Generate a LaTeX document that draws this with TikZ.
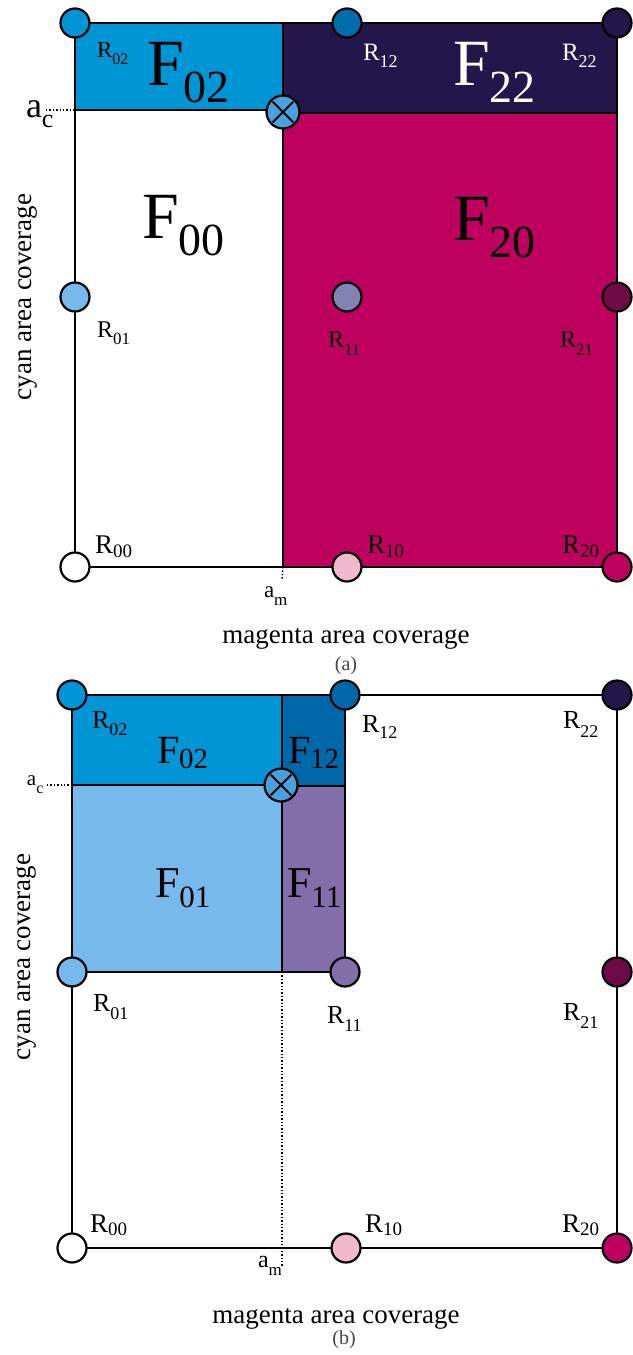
\documentclass[tikz,border=0pt]{standalone}
\usepackage{fontspec}
\setmainfont{Liberation Serif}
\newcommand\slab[5]{\fontsize{#3}{#3}\selectfont #1\raisebox{-#5}{\fontsize{#4}{#4}\selectfont #2}}
\definecolor{cyanA}{HTML}{0096D6}
\definecolor{navyA}{HTML}{23164B}
\definecolor{magA}{HTML}{BE005F}
\definecolor{blueB}{HTML}{0068A8}
\definecolor{ltblue}{HTML}{78B9EB}
\definecolor{lavend}{HTML}{8282B4}
\definecolor{purpB}{HTML}{826EA8}
\definecolor{plum}{HTML}{6E0A46}
\definecolor{pink}{HTML}{F0B9CD}
\definecolor{crossc}{HTML}{4AA0DA}
\definecolor{capgray}{HTML}{444444}
\tikzset{
  frame/.style={line width=2.2pt, black},
  bound/.style={line width=1.8pt, black},
  dotline/.style={line width=1.4pt, black, dotted},
  pnode/.style={circle, draw=black, line width=2.2pt, minimum size=29pt, inner sep=0pt},
  xnode/.style={circle, draw=black, line width=2.2pt, minimum size=33pt, inner sep=0pt, fill=crossc},
  lbl/.style={anchor=base west, inner sep=0pt, outer sep=0pt},
  axl/.style={inner sep=0pt, font=\fontsize{27}{27}\selectfont},
  capl/.style={inner sep=0pt, text=capgray, font=\fontsize{20}{20}\selectfont},
}
\begin{document}
\begin{tikzpicture}[x=1pt,y=-1pt]
\useasboundingbox (0,0) rectangle (632,1355);
% ================= panel (a) =================
\coordinate (a00) at (75,567); \coordinate (a10) at (347,567); \coordinate (a20) at (617,567);
\coordinate (a01) at (75,297); \coordinate (a11) at (347,297); \coordinate (a21) at (617,297);
\coordinate (a02) at (75,23);  \coordinate (a12) at (347,23);  \coordinate (a22) at (617,23);
\coordinate (aX) at (283,112);
\coordinate (aT) at (283,23); \coordinate (aB) at (283,567);
\coordinate (aL) at (75,110); \coordinate (aC) at (283,110);
\coordinate (aR) at (617,113); \coordinate (aM) at (283,113);
\coordinate (acA) at (46,110); \coordinate (amA) at (282,580);
\fill[cyanA] (75,23) rectangle (283,110);
\fill[navyA] (283,23) rectangle (617,113);
\fill[magA] (283,113) rectangle (617,567);
\draw[frame] (a02) -- (a12) -- (a22) -- (a21) -- (a20) -- (a10) -- (a00) -- (a01) -- (a02);
\draw[bound] (aL) -- (aC);
\draw[bound] (aM) -- (aR);
\draw[bound] (aT) -- (aB);
\draw[dotline] (acA) -- (aL);
\draw[dotline] (aB) -- (amA);
\node[pnode, fill=cyanA] (n02) at (a02) {};
\node[pnode, fill=blueB!90!cyanA] (n12) at (a12) {};
\node[pnode, fill=navyA] (n22) at (a22) {};
\node[pnode, fill=ltblue] (n01) at (a01) {};
\node[pnode, fill=lavend] (n11) at (a11) {};
\node[pnode, fill=plum] (n21) at (a21) {};
\node[pnode, fill=white] (n00) at (a00) {};
\node[pnode, fill=pink] (n10) at (a10) {};
\node[pnode, fill=magA] (n20) at (a20) {};
\node[xnode] (nx) at (aX) {};
\draw[line width=2pt, shorten >=3pt, shorten <=3pt] (nx.45) -- (nx.225);
\draw[line width=2pt, shorten >=3pt, shorten <=3pt] (nx.135) -- (nx.315);
% labels (a)
\node[lbl] (tF02) at (147,85) {\slab{F}{02}{66}{46}{17pt}};
\node[lbl, text=white] (tF22) at (453,85) {\slab{F}{22}{66}{46}{17pt}};
\node[lbl] (tF00) at (142,238) {\slab{F}{00}{66}{46}{17pt}};
\node[lbl] (tF20) at (453,240) {\slab{F}{20}{66}{46}{17pt}};
\node[lbl] (tR02) at (97,57) {\slab{R}{02}{23}{16}{7pt}};
\node[lbl, text=white] (tR12) at (363,60) {\slab{R}{12}{25}{18}{7pt}};
\node[lbl, text=white] (tR22) at (562,60) {\slab{R}{22}{25}{18}{7pt}};
\node[lbl] (tR01) at (97,337) {\slab{R}{01}{24}{17}{7pt}};
\node[lbl] (tR11) at (328,347) {\slab{R}{11}{24}{17}{8pt}};
\node[lbl] (tR21) at (560,347) {\slab{R}{21}{24}{17}{8pt}};
\node[lbl] (tR00) at (95,553) {\slab{R}{00}{27}{19}{4pt}};
\node[lbl] (tR10) at (367,553) {\slab{R}{10}{27}{19}{4pt}};
\node[lbl] (tR20) at (562,553) {\slab{R}{20}{27}{19}{4pt}};
\node[lbl] (tac) at (26,117) {\slab{a}{c}{36}{26}{10pt}};
\node[lbl] (tam) at (264,597) {\slab{a}{m}{23}{17}{8pt}};
\node[axl, anchor=base] (xa) at (346,643) {magenta area coverage};
\node[axl, anchor=base, rotate=90] (ya) at (31,297) {cyan area coverage};
\node[capl] (capa) at (346,666) {(a)};
% ================= panel (b) =================
\coordinate (b00) at (72,1248); \coordinate (b10) at (346,1248); \coordinate (b20) at (617,1248);
\coordinate (b01) at (72,972);  \coordinate (b11) at (345,972);  \coordinate (b21) at (617,972);
\coordinate (b02) at (72,695);  \coordinate (b12) at (345,695);  \coordinate (b22) at (617,695);
\coordinate (bX) at (281,785);
\coordinate (bT) at (282,695); \coordinate (bB) at (282,972);
\coordinate (bL) at (72,785); \coordinate (bC) at (282,785);
\coordinate (bR) at (345,786); \coordinate (bM) at (282,786);
\coordinate (acB) at (47,785); \coordinate (amB) at (282,1267);
\fill[cyanA] (72,695) rectangle (282,785);
\fill[blueB] (282,695) rectangle (345,786);
\fill[ltblue] (72,785) rectangle (282,972);
\fill[purpB] (282,786) rectangle (345,972);
\draw[frame] (b02) -- (b12) -- (b22) -- (b21) -- (b20) -- (b10) -- (b00) -- (b01) -- (b02);
\draw[frame] (b01) -- (b11) -- (b12);
\draw[bound] (bL) -- (bC);
\draw[bound] (bM) -- (bR);
\draw[bound] (bT) -- (bB);
\draw[dotline] (acB) -- (bL);
\draw[dotline] (bB) -- (amB);
\node[pnode, fill=cyanA] (m02) at (b02) {};
\node[pnode, fill=blueB] (m12) at (b12) {};
\node[pnode, fill=navyA] (m22) at (b22) {};
\node[pnode, fill=ltblue] (m01) at (b01) {};
\node[pnode, fill=purpB] (m11) at (b11) {};
\node[pnode, fill=plum] (m21) at (b21) {};
\node[pnode, fill=white] (m00) at (b00) {};
\node[pnode, fill=pink] (m10) at (b10) {};
\node[pnode, fill=magA] (m20) at (b20) {};
\node[xnode] (mx) at (bX) {};
\draw[line width=2pt, shorten >=3pt, shorten <=3pt] (mx.45) -- (mx.225);
\draw[line width=2pt, shorten >=3pt, shorten <=3pt] (mx.135) -- (mx.315);
% labels (b)
\node[lbl] (uF02) at (157,763) {\slab{F}{02}{40}{29}{5pt}};
\node[lbl] (uF12) at (288,763) {\slab{F}{12}{40}{29}{5pt}};
\node[lbl] (uF01) at (155,897) {\slab{F}{01}{44}{31}{10pt}};
\node[lbl] (uF11) at (287,897) {\slab{F}{11}{44}{31}{10pt}};
\node[lbl] (uR02) at (92,728) {\slab{R}{02}{26}{18}{7pt}};
\node[lbl] (uR12) at (362,732) {\slab{R}{12}{26}{18}{6pt}};
\node[lbl] (uR22) at (563,728) {\slab{R}{22}{26}{18}{9pt}};
\node[lbl] (uR01) at (93,1011) {\slab{R}{01}{26}{18}{8pt}};
\node[lbl] (uR11) at (327,1023) {\slab{R}{11}{26}{18}{8pt}};
\node[lbl] (uR21) at (563,1020) {\slab{R}{21}{26}{18}{8pt}};
\node[lbl] (uR00) at (90,1232) {\slab{R}{00}{27}{19}{3pt}};
\node[lbl] (uR10) at (365,1232) {\slab{R}{10}{27}{19}{3pt}};
\node[lbl] (uR20) at (562,1232) {\slab{R}{20}{27}{19}{3pt}};
\node[lbl] (uac) at (27,785) {\slab{a}{c}{21}{16}{8pt}};
\node[lbl] (uam) at (258,1267) {\slab{a}{m}{24}{17}{8pt}};
\node[axl, anchor=base] (xb) at (336,1323) {magenta area coverage};
\node[axl, anchor=base, rotate=90] (yb) at (30,957) {cyan area coverage};
\node[capl] (capb) at (344,1340) {(b)};
\end{tikzpicture}
\end{document}
